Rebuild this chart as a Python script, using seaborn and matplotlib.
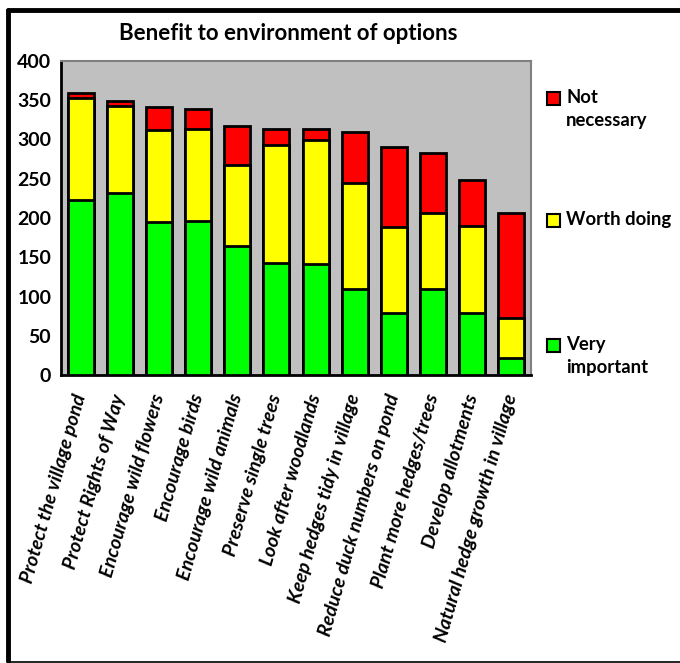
import matplotlib
matplotlib.use("Agg")
import matplotlib.pyplot as plt
from matplotlib.patches import Rectangle
from matplotlib.lines import Line2D
import seaborn as sns
import pandas as pd
import numpy as np

categories = [
    "Protect the village pond", "Protect Rights of Way", "Encourage wild flowers",
    "Encourage birds", "Encourage wild animals", "Preserve single trees",
    "Look after woodlands", "Keep hedges tidy in village", "Reduce duck numbers on pond",
    "Plant more hedges/trees", "Develop allotments", "Natural hedge growth in village",
]
very_important = [223, 232, 195, 196, 164, 143, 141, 110, 79, 109, 79, 22]
worth_doing = [130, 111, 117, 117, 104, 150, 158, 135, 109, 97, 111, 51]
not_necessary = [6, 6, 29, 26, 49, 20, 14, 64, 102, 77, 58, 134]
series_names = ["Very important", "Worth doing", "Not necessary"]
series_labels = ["Very\nimportant", "Worth doing", "Not\nnecessary"]
colors = ["#00FF00", "#FFFF00", "#FF0000"]
yticks = [0, 50, 100, 150, 200, 250, 300, 350, 400]

sns.set_theme(style="white", rc={"text.color": "black", "xtick.color": "black",
                                 "ytick.color": "black", "axes.labelcolor": "black"})
plt.rcParams["font.family"] = ["Lato", "DejaVu Sans"]

df = pd.DataFrame({"option": categories,
                   "Very important": very_important,
                   "Worth doing": worth_doing,
                   "Not necessary": not_necessary})
df["c1"] = df["Very important"]
df["c2"] = df["c1"] + df["Worth doing"]
df["c3"] = df["c2"] + df["Not necessary"]

fig = plt.figure(figsize=(6.8, 6.63), dpi=100)
ax = fig.add_axes([61/680, 1-375/663, 470/680, 314/663])
ax.set_facecolor("#C0C0C0")

for col, color in zip(["c3", "c2", "c1"], colors[::-1]):
    sns.barplot(data=df, x="option", y=col, color=color, width=0.66,
                edgecolor="black", linewidth=2, saturation=1, ax=ax, zorder=3)

ax.set_xlim(-0.5, len(categories) - 0.5)
ax.set_ylim(0, 400)
ax.set_yticks(yticks)
ax.set_xlabel("")
ax.set_ylabel("")
ax.set_xticks(range(len(categories)))
ax.set_xticklabels(categories, rotation=74, ha="right", va="center", rotation_mode="anchor",
                   fontsize=14, fontweight="bold", fontstyle="italic", color="black")
ax.set_xticks(np.arange(-0.5, len(categories), 1), minor=True)
ax.tick_params(axis="x", which="major", length=0, pad=14)
ax.tick_params(axis="x", which="minor", length=5, width=2, color="black", direction="out")
ax.tick_params(axis="y", length=5, width=2, color="black", direction="out", pad=2,
               labelsize=14, labelcolor="black")
for lbl in ax.get_yticklabels():
    lbl.set_fontweight("bold")
ax.grid(False)
for s in ["top", "right"]:
    ax.spines[s].set_color("#808080")
    ax.spines[s].set_linewidth(1.5)
for s in ["left", "bottom"]:
    ax.spines[s].set_color("black")
    ax.spines[s].set_linewidth(2)

fig.text(288/680, 1-33/663, "Benefit to environment of options", ha="center", va="center",
         fontsize=16, fontweight="bold", color="black")

# legend (manual, to keep the spread-out layout)
leg_y = [346, 221, 99]  # pixel centres for first text line
for name, lab, color, yp in zip(series_names, series_labels, colors, leg_y):
    fig.patches.append(Rectangle((547/680, 1-(yp+6)/663), 13/680, 13/663,
                                 transform=fig.transFigure, facecolor=color,
                                 edgecolor="black", linewidth=1.5))
    fig.text(566/680, 1-(yp-10)/663, lab, ha="left", va="top", fontsize=13.3,
             fontweight="bold", linespacing=1.4, color="black")

# outer frame
fig.add_artist(Line2D([8/680, 1], [1-10/663, 1-10/663], color="black", linewidth=3.5,
                      transform=fig.transFigure))
fig.add_artist(Line2D([8/680, 8/680], [1-10/663, 1-661/663], color="black", linewidth=3.5,
                      transform=fig.transFigure))
fig.add_artist(Line2D([8/680, 1], [1-661.5/663, 1-661.5/663], color="black", linewidth=1.2,
                      transform=fig.transFigure))

fig.savefig("out.png", dpi=100)
